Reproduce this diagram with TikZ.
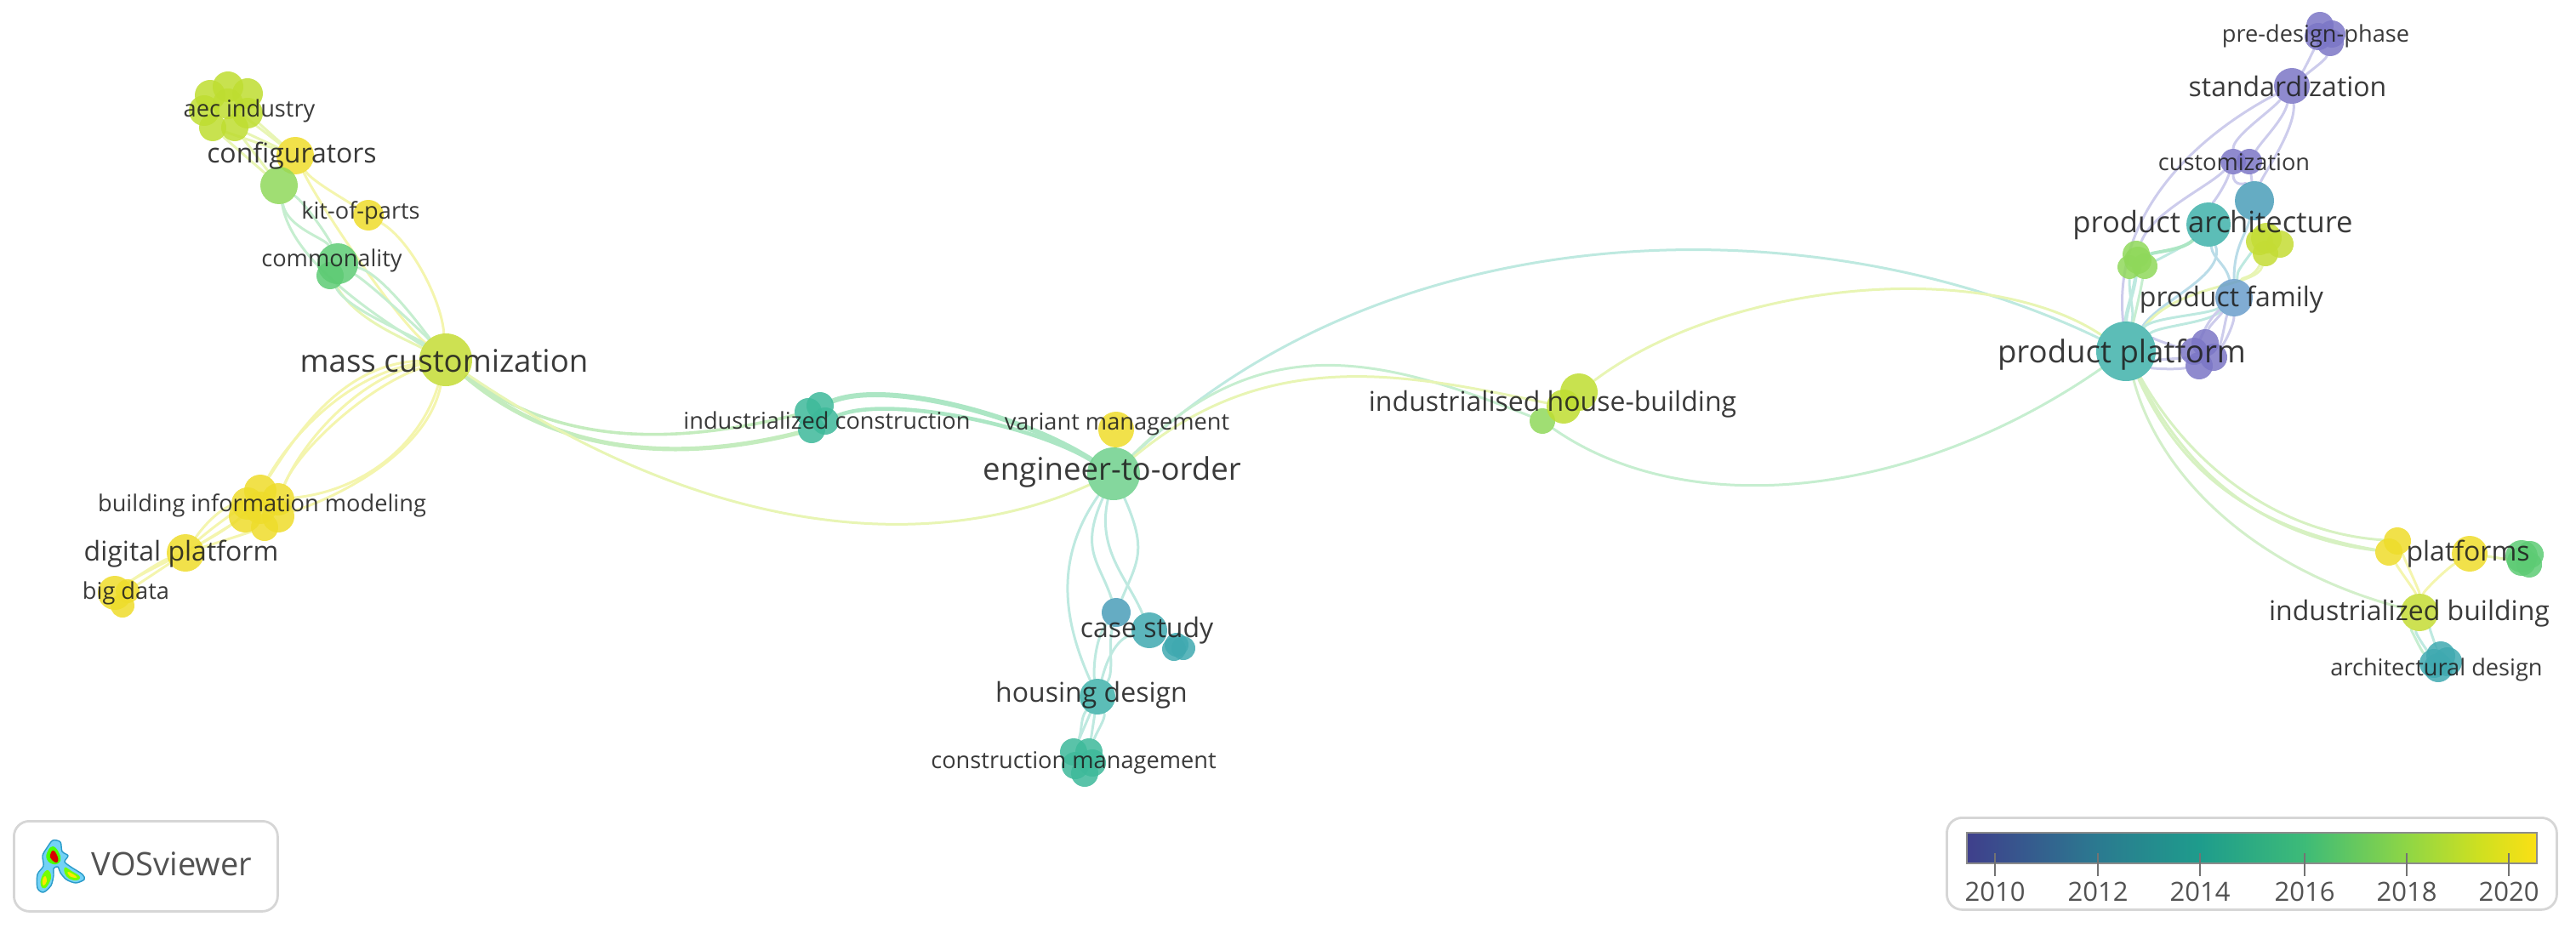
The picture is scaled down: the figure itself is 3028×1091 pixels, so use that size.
\documentclass[tikz,border=0pt]{standalone}
\usepackage{fontspec}
\setmainfont{Open Sans}
\usetikzlibrary{backgrounds,calc}
\definecolor{cYel}{HTML}{EEDC2A}
\definecolor{cLime}{HTML}{C4DC34}
\definecolor{cAec}{HTML}{BEDD30}
\definecolor{cLgreen}{HTML}{8FD85A}
\definecolor{cGreen}{HTML}{5DCB74}
\definecolor{cMint}{HTML}{6FD08C}
\definecolor{cSea}{HTML}{3DB99A}
\definecolor{cTeal}{HTML}{3FB2AA}
\definecolor{cTeal2}{HTML}{3FA9B0}
\definecolor{cBlue}{HTML}{4A9DB8}
\definecolor{cSky}{HTML}{6A9ECB}
\definecolor{cPur}{HTML}{7B76C6}
\definecolor{eLime}{HTML}{E8F5B4}
\definecolor{eYel}{HTML}{F4F5AE}
\definecolor{eGreen}{HTML}{C6EED0}
\definecolor{eThick}{HTML}{ACE6C4}
\definecolor{eTeal}{HTML}{BEE9E0}
\definecolor{ePur}{HTML}{CDCCEC}
\definecolor{eBlue}{HTML}{BADCE8}
\definecolor{vA}{HTML}{3F3F8C}
\definecolor{vB}{HTML}{2B7A90}
\definecolor{vC}{HTML}{1E9C8C}
\definecolor{vD}{HTML}{3DBB78}
\definecolor{vE}{HTML}{8FD645}
\definecolor{vF}{HTML}{CFE020}
\definecolor{vG}{HTML}{FBE015}
\pgfdeclarehorizontalshading{virbar}{100bp}{
 color(0bp)=(vA); color(25bp)=(vA); color(36.5bp)=(vB); color(45.4bp)=(vC); color(54.6bp)=(vD); color(63.6bp)=(vE); color(70bp)=(vF); color(75bp)=(vG); color(100bp)=(vG)}
\tikzset{
 kw/.style 2 args={circle,inner sep=0pt,minimum size=#1pt,fill=#2,fill opacity=.85,draw=none},
 lab/.style={inner sep=0pt,text=black!88,text opacity=.88,yshift=-1.2pt},
 big/.style={lab,font=\fontsize{18.3}{20}\selectfont},
 bigmid/.style={lab,font=\fontsize{17.3}{20}\selectfont},
 mid/.style={lab,font=\fontsize{16}{18}\selectfont},
 sma/.style={lab,font=\fontsize{13.6}{16}\selectfont},
 edge/.style={line width=1.5pt,line cap=round},
 yl/.style={edge,eYel},
 li/.style={edge,eLime},
 gr/.style={edge,eGreen},
 te/.style={edge,eTeal},
 pu/.style={edge,ePur},
 bl/.style={edge,eBlue},
 thick green/.style={line width=3pt,eThick,line cap=round},
 panel/.style={draw=black!16,line width=1.4pt,rounded corners=9pt,fill=white},
 tick mark/.style={draw=black!55,line width=1.1pt},
 year/.style={inner sep=0pt,text=black!68,font=\fontsize{15.5}{18}\selectfont,yshift=-.8pt},
}
\begin{document}
\begin{tikzpicture}[x=0.5pt,y=-0.5pt]
\useasboundingbox (0,0) rectangle (3028,1091);
% --- aec industry
\node[kw={18}{cAec}] (a1) at (268,102) {};
\node[kw={18}{cAec}] (a2) at (247,112) {};
\node[kw={18}{cAec}] (a3) at (291,110) {};
\node[kw={18}{cAec}] (a4) at (268,122) {};
\node[kw={16}{cAec}] (a5) at (250,150) {};
\node[kw={16}{cAec}] (a6) at (276,150) {};
\node[kw={18}{cAec}] (a7) at (240,130) {};
\node[kw={18}{cAec}] (a8) at (291,133) {};
\node[kw={22}{cYel}] (conf) at (347,183) {};
\node[kw={22}{cLgreen}] (gn) at (328,218) {};
\node[kw={18}{cYel}] (kit) at (433,253) {};
\node[kw={24}{cGreen}] (com1) at (397,310) {};
\node[kw={16}{cGreen}] (com2) at (388,324) {};
\node[kw={31}{cLime}] (mc) at (524,423) {};
% --- BIM
\node[kw={19}{cYel}] (b1) at (306,577) {};
\node[kw={19}{cYel}] (b2) at (291,592) {};
\node[kw={19}{cYel}] (b3) at (327,587) {};
\node[kw={19}{cYel}] (b4) at (306,597) {};
\node[kw={19}{cYel}] (b5) at (327,607) {};
\node[kw={16}{cYel}] (b6) at (311,620) {};
\node[kw={19}{cYel}] (b7) at (288,607) {};
\node[kw={22}{cYel}] (dp) at (218,650) {};
\node[kw={20}{cYel}] (bd1) at (135,697) {};
\node[kw={14}{cYel}] (bd2) at (144,712) {};
\node[kw={14}{cYel}] (bd3) at (150,695) {};
% --- centre
\node[kw={16}{cSea}] (ic1) at (964,477) {};
\node[kw={16}{cSea}] (ic2) at (950,484) {};
\node[kw={16}{cSea}] (ic3) at (970,495) {};
\node[kw={16}{cSea}] (ic4) at (954,505) {};
\node[kw={21}{cYel}] (vm) at (1312,505) {};
\node[kw={31}{cMint}] (eto) at (1309,557) {};
\node[kw={17}{cBlue}] (cs1) at (1312,720) {};
\node[kw={21}{cTeal2}] (cs2) at (1351,741) {};
\node[kw={14}{cTeal2}] (cs3) at (1383,758) {};
\node[kw={14}{cTeal2}] (cs4) at (1380,763) {};
\node[kw={14}{cTeal2}] (cs5) at (1391,762) {};
\node[kw={21}{cTeal}] (hd) at (1290,819) {};
\node[kw={16}{cSea}] (cm1) at (1262,884) {};
\node[kw={16}{cSea}] (cm2) at (1280,884) {};
\node[kw={16}{cSea}] (cm3) at (1264,900) {};
\node[kw={16}{cSea}] (cm4) at (1275,909) {};
\node[kw={16}{cSea}] (cm5) at (1284,897) {};
\node[kw={15}{cLgreen}] (hb1) at (1813,495) {};
\node[kw={20}{cAec}] (hb2) at (1838,478) {};
\node[kw={22}{cAec}] (hb3) at (1856,461) {};
% --- top right
\node[kw={16}{cPur}] (pd1) at (2727,30) {};
\node[kw={16}{cPur}] (pd2) at (2741,40) {};
\node[kw={16}{cPur}] (pd3) at (2725,43) {};
\node[kw={16}{cPur}] (pd4) at (2739,50) {};
\node[kw={21}{cPur}] (std) at (2694,101) {};
\node[kw={15}{cPur}] (cu1) at (2625,190) {};
\node[kw={15}{cPur}] (cu2) at (2644,190) {};
\node[kw={23}{cBlue}] (tb) at (2650,236) {};
\node[kw={26}{cTeal}] (pa) at (2596,264) {};
\node[kw={18}{cLime}] (yg1) at (2664,280) {};
\node[kw={16}{cLime}] (yg2) at (2656,284) {};
\node[kw={16}{cLime}] (yg3) at (2680,287) {};
\node[kw={15}{cLime}] (yg4) at (2663,298) {};
\node[kw={16}{cLgreen}] (gc1) at (2511,299) {};
\node[kw={14}{cLgreen}] (gc2) at (2503,314) {};
\node[kw={15}{cLgreen}] (gc3) at (2521,313) {};
\node[kw={16}{cLgreen}] (gc4) at (2513,306) {};
\node[kw={22}{cSky}] (pf) at (2626,350) {};
\node[kw={35}{cTeal}] (pp) at (2499,413) {};
\node[kw={16}{cPur}] (pu1) at (2592,403) {};
\node[kw={16}{cPur}] (pu2) at (2579,413) {};
\node[kw={16}{cPur}] (pu3) at (2602,420) {};
\node[kw={16}{cPur}] (pu4) at (2585,430) {};
% --- bottom right
\node[kw={16}{cYel}] (pl1) at (2818,636) {};
\node[kw={16}{cYel}] (pl2) at (2808,649) {};
\node[kw={21}{cYel}] (pl3) at (2903,651) {};
\node[kw={19}{cGreen}] (gr1) at (2964,654) {};
\node[kw={16}{cGreen}] (gr2) at (2974,652) {};
\node[kw={15}{cGreen}] (gr3) at (2973,664) {};
\node[kw={17}{cGreen}] (gr4) at (2964,660) {};
\node[kw={22}{cLime}] (ib) at (2844,720) {};
\node[kw={17}{cTeal2}] (ad1) at (2869,771) {};
\node[kw={17}{cTeal2}] (ad2) at (2861,780) {};
\node[kw={17}{cTeal2}] (ad3) at (2877,778) {};
\node[kw={17}{cTeal2}] (ad4) at (2866,785) {};
% --- labels
\node[sma] (Laec) at (293,128) {aec industry};
\node[mid] (Lconf) at (343,181) {configurators};
\node[sma] (Lkit) at (424,248) {kit-of-parts};
\node[sma] (Lcom) at (390,304) {commonality};
\node[big] (Lmc) at (522,422) {mass customization};
\node[sma] (Lbim) at (308,592) {building information modeling};
\node[mid] (Ldp) at (213,649) {digital platform};
\node[sma] (Lbd) at (148,695) {big data};
\node[sma] (Lic) at (972,492) {industrialized construction};
\node[sma] (Lvm) at (1313,496) {variant management};
\node[big] (Leto) at (1307,553) {engineer-to-order};
\node[mid] (Lcs) at (1348,739) {case study};
\node[mid] (Lhd) at (1283,815) {housing design};
\node[sma] (Lcm) at (1262,894) {construction management};
\node[mid] (Lhb) at (1825,473) {industrialised house-building};
\node[sma] (Lpd) at (2722,40) {pre-design-phase};
\node[mid] (Lstd) at (2689,99) {standardization};
\node[sma] (Lcu) at (2626,188) {customization};
\node[bigmid] (Lpa) at (2601,262) {product architecture};
\node[mid] (Lpf) at (2623,350) {product family};
\node[big] (Lpp) at (2494,414) {product platform};
\node[mid] (Lpl) at (2901,649) {platforms};
\node[mid] (Lib) at (2832,719) {industrialized building};
\node[sma] (Lad) at (2864,785) {architectural design};
% --- legend panels
\node[panel,minimum width=155pt,minimum height=53pt,anchor=north west,inner sep=0pt] (logobox) at (15,964) {};
\node[inner sep=0pt,text=black!68,font=\fontsize{19}{22}\selectfont] (logotext) at (202,1016) {VOSviewer};
\fill[cyan!55!white,draw=cyan!60!teal,line width=.7pt] plot[smooth cycle,tension=.5] coordinates {(62,988)(71,990)(73,1001)(80,1006)(76,1013)(83,1019)(97,1028)(99,1034)(89,1038)(78,1034)(71,1026)(68,1019)(63,1021)(63,1029)(60,1041)(51,1049)(44,1044)(44,1028)(51,1018)(50,1006)(55,997)};
\fill[green!70!yellow] plot[smooth cycle,tension=.8] coordinates {(62,995)(69,1002)(71,1012)(63,1016)(55,1010)(56,1001)};
\fill[red!85!black] plot[smooth cycle,tension=.8] coordinates {(63,1000)(68,1008)(67,1014)(61,1011)(59,1005)};
\fill[green!55!yellow] plot[smooth cycle,tension=.8] coordinates {(55,1023)(60,1030)(56,1041)(50,1044)(48,1034)};
\fill[yellow!90!orange] plot[smooth cycle,tension=.8] coordinates {(53,1030)(55,1036)(51,1041)(50,1035)};
\fill[green!55!yellow] plot[smooth cycle,tension=.8] coordinates {(76,1020)(84,1024)(94,1031)(88,1035)(78,1030)};
\fill[yellow!90!orange] plot[smooth cycle,tension=.8] coordinates {(80,1025)(88,1029)(90,1032)(82,1030)};
\node[panel,minimum width=358.5pt,minimum height=54pt,anchor=north west,inner sep=0pt] (legbox) at (2287,960) {};
\shade[shading=virbar,draw=black!45,line width=.9pt] (2312,979) rectangle (2982,1015);
\foreach \nm/\x/\yy in {c/2345/2010,d/2466/2012,e/2586/2014,f/2709/2016,g/2829/2018,h/2949/2020}{
  \coordinate (tt\nm) at (\x,1003);
  \coordinate (tb\nm) at (\x,1030);
  \draw[tick mark] (tt\nm) -- (tb\nm);
  \node[year] (y\nm) at (\x,1047) {\yy};
}
% --- connectors
\begin{pgfonlayer}{background}
% top left
\draw[li] (a5) -- (conf);
\draw[li] (a6) -- (conf);
\draw[li] (a8) -- (conf);
\draw[li] (a4) -- (conf);
\draw[li] (a5) -- (gn);
\draw[li] (a6) -- (gn);
\draw[yl] (conf) .. controls +(20,30) and +(-30,-20) .. (kit);
\draw[yl] (conf) .. controls +(30,60) and +(-60,-50) .. (mc);
\draw[yl] (kit) .. controls +(50,30) and +(-5,-70) .. (mc);
\draw[gr] (gn) .. controls +(10,50) and +(-15,-30) .. (com1);
\draw[gr] (gn) .. controls +(30,20) and +(-10,-30) .. (com1);
\draw[gr] (gn) .. controls +(15,90) and +(-80,-50) .. (mc);
\draw[gr] (com1) .. controls +(50,10) and +(-30,-40) .. (mc);
\draw[gr] (com1) .. controls +(40,25) and +(-25,-30) .. (mc);
\draw[li] (com2) .. controls +(30,50) and +(-60,-30) .. (mc);
\draw[gr] (com2) .. controls +(20,40) and +(-40,-30) .. (mc);
% mass customization - BIM
\draw[yl] (mc) .. controls +(-120,5) and +(45,-70) .. (b1);
\draw[yl] (mc) .. controls +(-110,15) and +(40,-70) .. (b1);
\draw[yl] (mc) .. controls +(-100,20) and +(30,-70) .. (b3);
\draw[yl] (mc) .. controls +(-90,30) and +(25,-60) .. (b3);
\draw[yl] (mc) .. controls +(-30,100) and +(100,-10) .. (b3);
\draw[yl] (mc) .. controls +(-20,100) and +(90,-30) .. (b5);
\draw[yl] (b7) -- (dp);
\draw[yl] (b2) .. controls +(-30,20) and +(20,-20) .. (dp);
\draw[yl] (b6) -- (dp);
\draw[yl] (b4) .. controls +(-40,-10) and +(20,-30) .. (dp);
\draw[yl] (dp) -- (bd3);
\draw[yl] (dp) .. controls +(-30,10) and +(20,-15) .. (bd1);
\draw[yl] (b1) .. controls +(-30,50) and +(40,-30) .. (bd1);
% mc - centre
\draw[edge,line width=1.8pt,eLime!40!eThick] (mc) .. controls +(130,100) and +(-160,40) .. (ic2);
\draw[edge,line width=2.6pt,eLime!40!eThick] (mc) .. controls +(130,110) and +(-160,40) .. (ic4);
\draw[edge,line width=1.5pt,eLime] (mc) .. controls +(336,227) and +(-189,86) .. (eto);
\draw[thick green] (ic1) .. controls +(80,-30) and +(-110,-70) .. (eto);
\draw[edge,line width=2.3pt,eThick] (ic3) .. controls +(70,-30) and +(-100,-60) .. (eto);
% eto - right
\draw[te] (eto) .. controls +(331,-314) and +(-359,-173) .. (pp);
\draw[gr] (eto) .. controls +(171,-169) and +(-198,-79) .. (hb1);
\draw[li] (eto) .. controls +(180,-150) and +(-190,-40) .. (hb2);
\draw[li] (hb3) .. controls +(172,-130) and +(-168,-111) .. (pp);
\draw[gr] (hb1) .. controls +(169,118) and +(-252,175) .. (pp);
\draw[yl] (vm) -- (eto);
% eto - down
\draw[te] (eto) .. controls +(-70,100) and +(-40,-90) .. (hd);
\draw[te] (eto) .. controls +(-40,90) and +(-20,-60) .. (cs1);
\draw[te] (eto) .. controls +(-20,90) and +(-25,-60) .. (cs2);
\draw[te] (eto) .. controls +(40,90) and +(25,-60) .. (cs1);
\draw[te] (cs1) .. controls +(-25,30) and +(-5,-30) .. (hd);
\draw[te] (cs2) .. controls +(-40,10) and +(10,-40) .. (hd);
\draw[te] (cs1) .. controls +(-10,40) and +(20,-30) .. (hd);
\draw[te] (hd) -- (cm1);
\draw[te] (hd) .. controls +(-20,25) and +(10,-25) .. (cm1);
\draw[te] (hd) -- (cm2);
\draw[te] (hd) .. controls +(10,25) and +(10,-25) .. (cm2);
% top right
\draw[pu] (std) .. controls +(15,-20) and +(-5,15) .. (pd3);
\draw[pu] (std) .. controls +(25,-20) and +(-5,20) .. (pd4);
\draw[pu] (std) .. controls +(-94,49) and +(-17,-174) .. (pp);
\draw[pu] (std) .. controls +(-25,30) and +(0,-30) .. (cu1);
\draw[pu] (std) .. controls +(-10,40) and +(15,-25) .. (cu2);
\draw[pu] (std) .. controls +(5,50) and +(10,-30) .. (tb);
\draw[pu] (cu1) .. controls +(-30,30) and +(20,-50) .. (gc1);
\draw[pu] (cu1) .. controls +(-10,30) and +(5,-25) .. (pa);
\draw[pu] (cu2) -- (tb);
\draw[pu] (cu1) .. controls +(0,30) and +(-10,-20) .. (tb);
\draw[bl] (tb) .. controls +(-10,40) and +(0,-60) .. (pf);
\draw[bl] (pa) .. controls +(5,40) and +(-10,-40) .. (pf);
\draw[te] (pa) .. controls +(-20,20) and +(30,-15) .. (gc3);
\draw[thick green,line width=2pt] (pa) .. controls +(-30,30) and +(20,-10) .. (gc4);
\draw[bl] (pa) .. controls +(20,60) and +(40,-60) .. (pp);
\draw[li] (yg4) .. controls +(-15,30) and +(10,-25) .. (pf);
\draw[te] (yg2) .. controls +(-30,40) and +(5,-30) .. (pf);
\draw[li] (yg4) .. controls +(-10,40) and +(60,-80) .. (pp);
\draw[te] (pp) .. controls +(10,-50) and +(0,40) .. (gc2);
\draw[thick green,line width=2.2pt,eTeal] (pp) .. controls +(0,-50) and +(0,40) .. (gc1);
\draw[gr] (pp) .. controls +(10,-40) and +(-5,30) .. (gc3);
\draw[te] (pp) .. controls +(30,-40) and +(-30,20) .. (pf);
\draw[te] (pp) .. controls +(40,-30) and +(-30,30) .. (pf);
\draw[pu] (pf) .. controls +(-20,25) and +(5,-20) .. (pu1);
\draw[pu] (pf) .. controls +(-10,25) and +(10,-20) .. (pu3);
\draw[pu] (pf) .. controls +(-30,25) and +(10,-20) .. (pu2);
\draw[pu] (pf) .. controls +(0,30) and +(15,-20) .. (pu3);
\draw[pu] (pp) .. controls +(30,-15) and +(-20,-5) .. (pu2);
\draw[pu] (pp) .. controls +(30,20) and +(-30,5) .. (pu4);
\draw[pu] (pp) .. controls +(30,10) and +(-25,0) .. (pu3);
% bottom right
\draw[edge,eGreen!50!eLime] (pp) .. controls +(70,125) and +(-150,-10) .. (pl1);
\draw[edge,eGreen!50!eLime] (pp) .. controls +(65,130) and +(-160,-20) .. (pl2);
\draw[edge,eGreen!50!eLime] (pp) .. controls +(61,135) and +(-168,-29) .. (pl2);
\draw[edge,eTeal!50!eLime] (pp) .. controls +(40,150) and +(-190,-50) .. (ib);
\draw[yl] (pl2) .. controls +(15,25) and +(-5,-25) .. (ib);
\draw[yl] (pl1) .. controls +(10,25) and +(0,-25) .. (ib);
\draw[yl] (pl3) .. controls +(-30,20) and +(5,-25) .. (ib);
\draw[li] (pl3) -- (gr4);
\draw[te] (ib) .. controls +(-5,25) and +(-5,-10) .. (ad2);
\draw[gr] (ib) .. controls +(-10,20) and +(-15,-15) .. (ad2);
\draw[te] (ib) .. controls +(10,15) and +(-5,-10) .. (ad1);
\end{pgfonlayer}
\end{tikzpicture}
\end{document}
